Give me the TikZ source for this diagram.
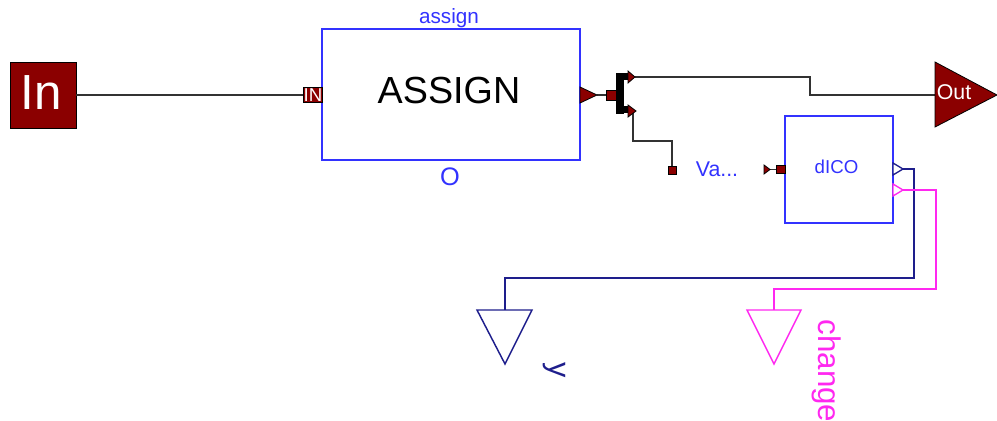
\documentclass[tikz,border=0pt]{standalone}
\usepackage{fontspec}
\setmainfont{Liberation Sans}
\usepackage{tikz}
\usetikzlibrary{arrows.meta,positioning,calc}
\definecolor{PortRed}{RGB}{139,0,0}
\definecolor{BlockBlue}{RGB}{50,50,255}
\definecolor{WireGray}{RGB}{50,50,50}
\definecolor{WireNavy}{RGB}{30,30,140}
\definecolor{WirePink}{RGB}{255,40,240}
\newcommand{\fs}[1]{\fontsize{#1}{#1}\selectfont}
\tikzset{
  blockbox/.style={draw=BlockBlue, line width=1.3pt, fill=white, inner sep=0pt},
  portbox/.style={draw=black, line width=0.7pt, fill=PortRed, inner sep=0pt, minimum size=#1},
  wire/.style={WireGray, line width=1.2pt},
  tipred/.style={draw=black, line width=0.6pt, fill=PortRed}
}
\begin{document}
\begin{tikzpicture}[x=0.75pt, y=-0.75pt]
        \useasboundingbox (0,0) rectangle (997,421);
        \node[draw=black, line width=0.5pt, fill=PortRed, inner sep=0pt, minimum size=49.5pt] (inblock) at (43,95) {};
        \node[text=white, font=\fs{37}] (inlabel) at (41,93) {In};
        \node[blockbox, minimum width=193.5pt, minimum height=98pt] (assignblock) at (451,94.5) {};
        \node[font=\fs{28.3}] (assignlabel) at (449,91) {ASSIGN};
        \node[text=BlockBlue, font=\fs{15.5}] (assignname) at (449,18) {assign};
        \node[text=BlockBlue, font=\fs{19}] (assignvar) at (450,177) {O};
        \node[fill=PortRed, draw=black, line width=0.5pt, text=white, inner sep=0pt, minimum width=14.5pt, minimum height=11pt, font=\fs{14}] (inport) at (313,95) {IN};
        \node[blockbox, minimum width=81pt, minimum height=80pt] (dicoblock) at (839,169.5) {};
        \node[text=BlockBlue, font=\fs{14}] (dicolabel) at (836.5,167) {dICO};
        \node[text=BlockBlue, font=\fs{16}] (valabel) at (717,169) {Va...};
        \coordinate (asstip) at (597,95);
        \coordinate (bustop) at (635,77);
        \coordinate (busbot) at (636,111);
        \coordinate (dicotip) at (770,169.5);
        \coordinate (outtip) at (935,95);
        \coordinate (ytop) at (505,310);
        \coordinate (chtop) at (774,310);
        \coordinate (ystart) at (903,169);
        \coordinate (chstart) at (903,190);
        \node[portbox=7.5pt] (busin) at (611,95) {};
        \node[draw=black, fill=black, inner sep=0pt, minimum width=5pt, minimum height=30pt] (busbar) at (619.5,93) {};
        \node[portbox=6pt] (vaout) at (672,170) {};
        \node[portbox=6.5pt] (dicoin) at (781,169.5) {};
        \draw[wire] (inblock) -- (inport);
        \draw[wire] (asstip) -- (busin);
        \draw[wire] (bustop) -- (810,77) -- (810,95) -- (outtip);
        \draw[wire] (633,111) -- (633,141) -- (672,141) -- (vaout);
        \draw[wire] (dicotip) -- (dicoin);
        \draw[WireNavy, line width=1.2pt] (ystart) -- (914,169) -- (914,278) -- (505,278) -- (ytop);
        \draw[WirePink, line width=1.2pt] (chstart) -- (936,190) -- (936,289) -- (774,289) -- (chtop);
        \draw[tipred] (580,87) -- (asstip) -- (580,103) -- cycle;
        \fill[black] (622,73) rectangle (629,80);
        \fill[black] (622,106) rectangle (629,113);
        \draw[tipred] (628,71) -- (bustop) -- (628,83) -- cycle;
        \draw[tipred] (628,105) -- (busbot) -- (628,117) -- cycle;
        \draw[tipred] (764,165) -- (dicotip) -- (764,174) -- cycle;
        \draw[WireNavy, line width=1pt, fill=white] (893,163) -- (ystart) -- (893,175) -- cycle;
        \draw[WirePink, line width=1pt, fill=white] (893,184) -- (chstart) -- (893,196) -- cycle;
        \draw[draw=black, line width=0.6pt, fill=PortRed] (935,62) -- (997,95) -- (935,127) -- cycle;
        \node[text=white, font=\fs{16}] (outlabel) at (954,92) {Out};
        \draw[WireNavy, line width=1.1pt] (477,310) -- (532,310) -- (505,364) -- cycle;
        \draw[WirePink, line width=1.1pt] (747,310) -- (801,310) -- (774,364) -- cycle;
        \node[text=WireNavy, rotate=-90, font=\fs{23}] (ylabel) at (554,370) {y};
        \node[text=WirePink, rotate=-90, font=\fs{23.5}] (changelabel) at (827,371) {change};
      \end{tikzpicture}
\end{document}
